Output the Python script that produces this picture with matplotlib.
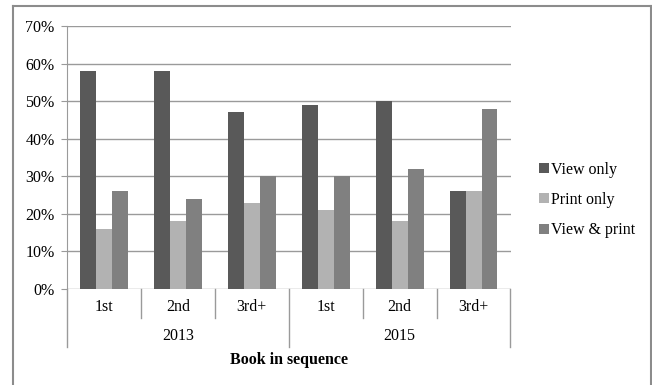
import matplotlib.pyplot as plt
import numpy as np
from matplotlib.lines import Line2D

plt.rcParams['font.family'] = ['Liberation Serif', 'DejaVu Serif']

years = ['2013', '2015']
books = ['1st', '2nd', '3rd+', '1st', '2nd', '3rd+']
view_only = [58, 58, 47, 49, 50, 26]
print_only = [16, 18, 23, 21, 18, 26]
view_print = [26, 24, 30, 30, 32, 48]

series = [('View only', view_only, '#595959'),
          ('Print only', print_only, '#b2b2b2'),
          ('View & print', view_print, '#808080')]

fs = 11.5
fig = plt.figure(figsize=(6.52, 3.85), dpi=100)
ax = fig.add_axes([67 / 652, 1 - 289 / 385, (510.5 - 67) / 652, (289 - 26) / 385])

x = np.arange(len(books))
w = 0.216
for i, (name, vals, col) in enumerate(series):
    ax.bar(x + (i - 1) * w, vals, w, color=col, label=name, zorder=3)

ax.set_xlim(-0.5, len(books) - 0.5)
ax.set_ylim(0, 70)
ax.set_yticks(range(0, 71, 10))
ax.set_yticklabels(['%d%%' % v for v in range(0, 71, 10)], fontsize=fs)
ax.yaxis.grid(True, color='#9a9a9a', linewidth=1.0, zorder=0)
ax.tick_params(axis='y', length=4, color='#9a9a9a', pad=5)
for s in ['top', 'right', 'bottom']:
    ax.spines[s].set_visible(False)
ax.spines['left'].set_color('#9a9a9a')

# two-level category axis
ax.set_xticks([])
tr = ax.get_xaxis_transform()
for xi, lab in zip(x, books):
    ax.text(xi, -0.068, lab, transform=tr, ha='center', va='center', fontsize=fs)
for k, yr in enumerate(years):
    ax.text(1 + 3 * k, -0.18, yr, transform=tr, ha='center', va='center', fontsize=fs)
for xs in [0.5, 1.5, 3.5, 4.5]:
    ax.add_line(Line2D([xs, xs], [0, -0.11], transform=tr, color='#9a9a9a',
                       linewidth=1.0, clip_on=False))
for xs in [-0.5, 2.5, 5.5]:
    ax.add_line(Line2D([xs, xs], [0, -0.22], transform=tr, color='#9a9a9a',
                       linewidth=1.0, clip_on=False))
ax.text(2.5, -0.27, 'Book in sequence', transform=tr, ha='center', va='center',
        fontsize=fs, fontweight='bold')

leg = fig.legend(loc='center left', bbox_to_anchor=(531 / 652, 1 - 200 / 385),
                 frameon=False, fontsize=fs, handlelength=0.6, handleheight=0.6,
                 handletextpad=0.15, labelspacing=0.9, borderpad=0)

# outer chart border (open at the bottom)
bc = '#8c8c8c'
fig.add_artist(Line2D([13 / 652, 13 / 652], [0, 1 - 6 / 385], color=bc, linewidth=1.5))
fig.add_artist(Line2D([13 / 652, 651 / 652], [1 - 6 / 385, 1 - 6 / 385], color=bc, linewidth=1.5))
fig.add_artist(Line2D([651 / 652, 651 / 652], [0, 1 - 6 / 385], color=bc, linewidth=1.5))

fig.savefig('out.png', dpi=100)
